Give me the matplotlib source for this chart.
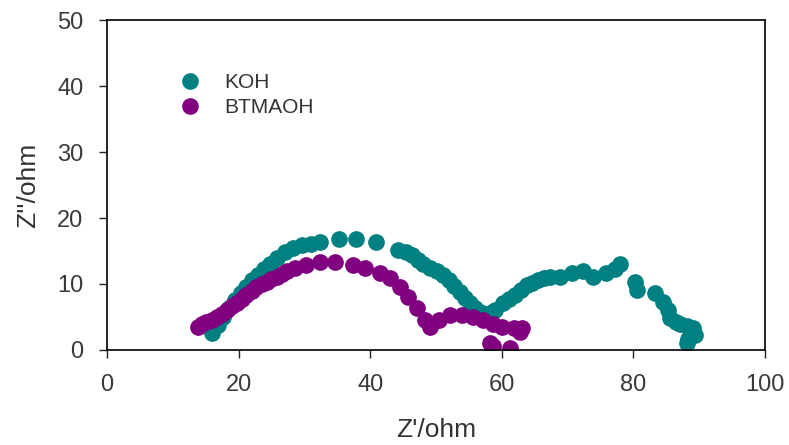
import matplotlib
matplotlib.use("Agg")
import matplotlib.pyplot as plt
import numpy as np

plt.rcParams['font.family'] = ['Liberation Sans', 'DejaVu Sans']

# Nyquist data, Z' and Z'' in ohm
koh_re = [15.9, 16.8, 17.6, 18.5, 19.4, 20.3, 21.2, 22.1, 23.0, 23.9, 24.8, 25.9,
          27.0, 28.3, 29.6, 31.0, 32.4, 35.3, 37.9, 40.9, 44.3, 45.4, 46.3, 47.2,
          48.1, 49.1, 50.1, 51.0, 51.9, 52.8, 53.6, 54.4, 55.2, 56.0, 56.7, 57.5,
          58.2, 59.0, 60.2, 61.1, 62.0, 62.9, 63.8, 64.6, 65.5, 66.4, 67.3, 68.8,
          70.6, 72.4, 73.9, 75.9, 77.2, 78.0, 80.2, 80.5, 83.3, 84.5, 85.3, 85.6,
          86.5, 87.1, 88.1, 89.1, 89.4, 88.3, 88.1]
koh_im = [2.5, 3.8, 5.0, 6.3, 7.6, 8.6, 9.6, 10.6, 11.4, 12.3, 13.0, 13.9,
          14.8, 15.4, 15.9, 16.1, 16.3, 16.8, 16.8, 16.3, 15.2, 14.8, 14.4, 13.7,
          13.1, 12.5, 11.9, 11.3, 10.6, 9.7, 8.8, 7.9, 7.1, 6.4, 5.8, 5.5,
          5.6, 6.1, 7.1, 7.7, 8.3, 9.1, 9.8, 10.2, 10.6, 10.9, 11.1, 11.1,
          11.6, 11.9, 11.1, 11.6, 12.2, 13.1, 10.3, 9.1, 8.6, 7.3, 6.1, 4.8,
          4.3, 4.0, 3.6, 3.3, 2.3, 1.6, 1.0]

btmaoh_re = [13.9, 14.5, 15.1, 15.9, 16.7, 17.5, 18.2, 19.0, 19.7, 20.5, 21.2, 22.0,
             22.7, 23.5, 24.3, 25.0, 25.8, 26.6, 27.3, 28.6, 30.3, 32.4, 34.7, 37.4,
             39.2, 41.5, 43.0, 44.5, 45.8, 47.1, 48.3, 49.1, 50.4, 52.1, 53.9, 55.6,
             57.2, 58.7, 60.0, 61.8, 63.0, 62.8, 61.2, 58.7, 58.2]
btmaoh_im = [3.5, 3.9, 4.3, 4.6, 5.0, 5.5, 6.1, 6.6, 7.1, 7.7, 8.3, 9.0,
             9.6, 10.0, 10.3, 10.7, 11.1, 11.5, 11.9, 12.4, 12.9, 13.4, 13.4, 12.9,
             12.4, 11.6, 10.9, 9.6, 8.1, 6.3, 4.5, 3.5, 4.5, 5.3, 5.3, 5.0,
             4.5, 4.0, 3.5, 3.3, 3.3, 2.8, 0.3, 0.6, 1.0]

fig = plt.figure(figsize=(7.89, 4.45), dpi=100)
ax = fig.add_axes([0.1356, 0.2135, 0.834, 0.7415])

ax.plot(koh_re, koh_im, 'o', color='#008080', markersize=11, label='KOH')
ax.plot(btmaoh_re, btmaoh_im, 'o', color='#800080', markersize=11, label='BTMAOH')

ax.set_xlim(0, 100)
ax.set_ylim(0, 50)
ax.set_xticks(np.arange(0, 101, 20))
ax.set_yticks(np.arange(0, 51, 10))
ax.tick_params(direction='out', length=6, width=1, labelsize=17, colors='#222222',
               labelcolor='#3a3a3a', pad=11)
for s in ax.spines.values():
    s.set_linewidth(1.2)
    s.set_color('black')

ax.set_xlabel("Z'/ohm", fontsize=19, labelpad=16, color='#333333')
ax.set_ylabel("Z''/ohm", fontsize=19, labelpad=12, color='#333333')

ax.legend(loc='upper left', bbox_to_anchor=(0.097, 0.865), frameon=False,
          fontsize=15, handletextpad=1.15, labelspacing=0.3, markerscale=1.0,
          handlelength=1.0, labelcolor='#333333', borderaxespad=0)

fig.savefig('out.png', dpi=100)
